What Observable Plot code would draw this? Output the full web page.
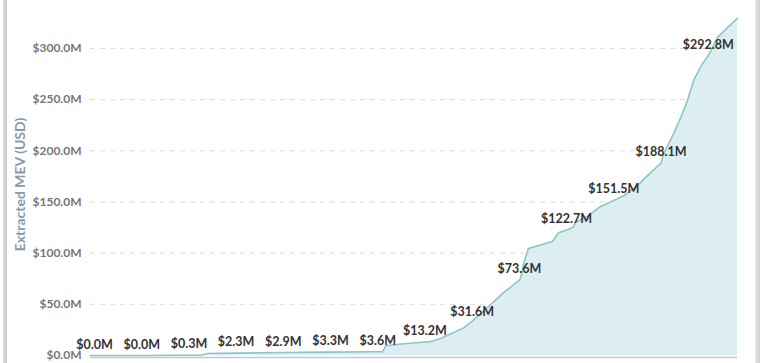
<!DOCTYPE html>
<html>
<head>
<meta charset="utf-8">
<script src="https://cdn.jsdelivr.net/npm/d3@7"></script>
<script src="https://cdn.jsdelivr.net/npm/@observablehq/plot@0.6"></script>
<style>
  html, body { margin: 0; padding: 0; background: #fff; }
  #wrap { position: relative; width: 763px; height: 363px; overflow: hidden; font-family: Lato, "Open Sans", sans-serif; }
  #wrap svg { position: absolute; left: 0; top: 0; }
  .edge { position: absolute; top: 0; height: 363px; }
  #edgeL { left: 3px; width: 4px; background: linear-gradient(to right, #d9dde1, #c4c9ce); }
  #edgeR { left: 755px; width: 5px; background: linear-gradient(to right, #e4e6e8, #cdd1d5); }
</style>
</head>
<body>
<div id="wrap"><div id="edgeL" class="edge"></div><div id="edgeR" class="edge"></div></div>
<script>
// Month index (0 = first labelled month) of each labelled point and its cumulative value (USD millions)
const labelMonths = [0, 1, 2, 3, 4, 5, 6, 7, 8, 9, 10, 11, 12, 13];
const labelValues = [0.0, 0.0, 0.3, 2.3, 2.9, 3.3, 3.6, 13.2, 31.6, 73.6, 122.7, 151.5, 188.1, 292.8];

// Cumulative extracted MEV curve (month index, USD millions)
const curveMonths = [-0.085, 0, 1, 2, 2.25, 2.39, 3, 4, 5, 6, 6.1, 6.17, 6.5, 7, 7.12, 7.33, 7.82, 8, 8.33, 8.67, 9, 9.03, 9.09, 9.17, 9.19, 9.7, 9.79, 9.83, 10, 10.13, 10.19, 10.44, 10.7, 11, 11.21, 11.5, 11.72, 12, 12.06, 12.27, 12.42, 12.56, 12.69, 12.88, 13, 13.2, 13.41, 13.62];
const curveValues = [0, 0, 0, 0.3, 0.3, 2.0, 2.3, 2.9, 3.3, 3.6, 3.7, 9.5, 11.2, 13.2, 13.6, 16.6, 27.0, 33.5, 47.0, 61.6, 73.6, 76.2, 90.0, 101.6, 104.6, 111.4, 117.3, 120.0, 122.7, 125.0, 130.0, 136.0, 145.0, 151.5, 156.0, 166.0, 176.0, 188.1, 197.4, 217.0, 232.6, 249.2, 268.7, 285.3, 292.8, 310.8, 320.5, 329.3];

const yTicks = [0, 50, 100, 150, 200, 250, 300];
const yLabel = "Extracted MEV (USD)";

const fmt = v => `$${v.toFixed(1)}M`;
const curve = curveMonths.map((m, i) => ({m, v: curveValues[i]}));
const labels = labelMonths.map((m, i) => ({m, v: labelValues[i]}));

const chart = Plot.plot({
  width: 763,
  height: 363,
  marginLeft: 90,
  marginRight: 26,
  marginTop: 7,
  marginBottom: 8,
  style: {fontFamily: "Lato, 'Open Sans', sans-serif", background: "transparent"},
  x: {domain: [-0.085, 13.62], axis: null},
  y: {domain: [0, 340], ticks: yTicks, tickFormat: fmt, label: null},
  marks: [
    Plot.gridY(yTicks.filter(d => d > 0), {stroke: "#dcdcdc", strokeOpacity: 1, strokeDasharray: "5,5"}),
    Plot.areaY(curve, {x: "m", y: "v", fill: "#ddeef3", curve: "linear"}),
    Plot.lineY(curve, {x: "m", y: "v", stroke: "#8ec6c8", strokeWidth: 1.6, curve: "linear"}),
    Plot.ruleY([0], {stroke: "#c8c8c8", strokeWidth: 1.5, dy: 2}),
    Plot.axisY(yTicks, {
      tickSize: 0, tickPadding: 9, tickFormat: fmt, label: null,
      fontSize: 12, fontWeight: "bold", fill: "#777"
    }),
    Plot.text([yLabel], {
      text: d => d, frameAnchor: "left", rotate: -90, dx: -70, dy: 3,
      textAnchor: "middle", lineAnchor: "middle",
      fontSize: 14, fontWeight: "bold", fill: "#8b99a7"
    }),
    Plot.text(labels, {x: "m", y: "v", text: d => fmt(d.v), dy: -11, fontSize: 12.5, fontWeight: "bold", fill: "#333"})
  ]
});

document.getElementById("wrap").appendChild(chart);
</script>
</body>
</html>
